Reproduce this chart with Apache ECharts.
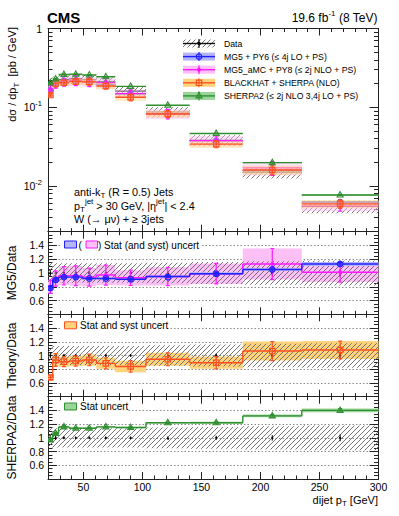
<!DOCTYPE html>
<html lang="en">
<head>
<meta charset="UTF-8">
<title>dijet pT - W + 3 jets</title>
<script src="https://cdn.jsdelivr.net/npm/echarts@6/dist/echarts.min.js"></script>
<style>
    html, body { margin: 0; padding: 0; background: #fff; }
    #chart { width: 399px; height: 516px; }
</style>
</head>
<body>
<div id="chart"></div>
<script>
// bins of dijet pT [GeV]
var binLow  = [20, 24, 29, 38, 49, 61, 77, 103, 140, 185, 235];
var binHigh = [24, 29, 38, 49, 61, 77, 103, 140, 185, 235, 300];
var binMid  = [22, 26.5, 33.5, 43.5, 55, 69, 90, 121.5, 162.5, 210, 267.5];

// measured cross section [pb/GeV] and relative uncertainties
var dataXsec    = [0.21, 0.215, 0.225, 0.23, 0.225, 0.21, 0.16, 0.087, 0.038, 0.0150, 0.0055];
var dataStatUnc = [0.04, 0.03, 0.02, 0.02, 0.02, 0.02, 0.02, 0.02, 0.03, 0.04, 0.05];
var dataTotUnc  = [0.14, 0.14, 0.14, 0.14, 0.14, 0.14, 0.14, 0.15, 0.16, 0.17, 0.18];

// predictions [pb/GeV]
var mg5Xsec = [0.164, 0.194, 0.212, 0.216, 0.207, 0.193, 0.146, 0.0827, 0.0376, 0.0158, 0.00622];
var amcXsec = [0.168, 0.198, 0.216, 0.221, 0.212, 0.204, 0.149, 0.0827, 0.0376, 0.0170, 0.00556];
var bhXsec  = [0.143, 0.201, 0.205, 0.212, 0.210, 0.186, 0.134, 0.0822, 0.0340, 0.0160, 0.00594];
var sh2Xsec = [0.204, 0.229, 0.261, 0.262, 0.257, 0.244, 0.184, 0.106, 0.0464, 0.0198, 0.0077];

// prediction / data
var mg5Ratio = [0.78, 0.90, 0.94, 0.94, 0.92, 0.92, 0.91, 0.95, 0.99, 1.05, 1.13];
var amcRatio = [0.80, 0.92, 0.96, 0.96, 0.94, 0.97, 0.93, 0.95, 0.99, 1.13, 1.01];
var bhRatio  = [0.68, 0.935, 0.91, 0.92, 0.935, 0.886, 0.84, 0.945, 0.895, 1.065, 1.08];
var sh2Ratio = [0.97, 1.065, 1.16, 1.14, 1.14, 1.16, 1.15, 1.22, 1.22, 1.32, 1.40];

// relative uncertainties of predictions
var mg5Unc = [0.03, 0.02, 0.015, 0.015, 0.015, 0.015, 0.015, 0.015, 0.02, 0.02, 0.025];
var amcUnc = [0.12, 0.12, 0.14, 0.15, 0.14, 0.15, 0.12, 0.14, 0.15, 0.20, 0.14];
var bhUnc  = [0.05, 0.10, 0.08, 0.08, 0.09, 0.09, 0.10, 0.10, 0.10, 0.13, 0.12];
var sh2Unc = [0.02, 0.015, 0.015, 0.01, 0.01, 0.01, 0.01, 0.01, 0.012, 0.015, 0.02];

// tick labels
var xTickLabels = [50, 100, 150, 200, 250, 300];
var ratioTickLabels = [0.6, 0.8, 1, 1.2, 1.4];
var logTickLabels = [-2, -1, 0];

var FONT = '"Liberation Sans", Arial, Helvetica, sans-serif';
var C = {
    blue: '#2020ff', blueBand: '#b4b6f6',
    mag: '#ff1aff', magBand: '#fcc0f6',
    orange: '#ff5020', orangeBand: '#ffd37c',
    green: '#2f8f2f', greenBand: '#9ad49a',
    frame: '#222'
};

// hatch like ROOT 3354
function hatch() {
    var c = document.createElement('canvas');
    c.width = 5; c.height = 5;
    var ctx = c.getContext('2d');
    ctx.strokeStyle = '#666';
    ctx.lineWidth = 0.9;
    ctx.beginPath();
    ctx.moveTo(0, 5); ctx.lineTo(5, 0);
    ctx.moveTo(-1, 1); ctx.lineTo(1, -1);
    ctx.moveTo(4, 6); ctx.lineTo(6, 4);
    ctx.stroke();
    return { image: c, repeat: 'repeat' };
}
var HATCH = hatch();

var ident = function (v) { return v; };
function rows(vals, errRel, bandRel, f) {
    return vals.map(function (v, i) {
        var prev = i > 0 ? vals[i - 1] : v;
        return [binLow[i], binHigh[i], binMid[i], f(v),
            f(v * (1 - errRel[i])), f(v * (1 + errRel[i])),
            f(v * (1 - bandRel[i])), f(v * (1 + bandRel[i])), f(prev)];
    });
}

function marker(kind, p, color) {
    var x = p[0], y = p[1];
    if (kind === 'circle') return { type: 'circle', shape: { cx: x, cy: y, r: 2.8 }, style: { fill: 'none', stroke: color, lineWidth: 1.2 } };
    if (kind === 'square') return { type: 'rect', shape: { x: x - 2.7, y: y - 2.7, width: 5.4, height: 5.4 }, style: { fill: 'none', stroke: color, lineWidth: 1.2 } };
    if (kind === 'triangle') return { type: 'polygon', shape: { points: [[x, y - 3.4], [x - 3, y + 2], [x + 3, y + 2]] }, style: { fill: 'none', stroke: color, lineWidth: 1.1 } };
    if (kind === 'diamond') return { type: 'polygon', shape: { points: [[x, y - 3], [x - 2.5, y], [x, y + 3], [x + 2.5, y]] }, style: { fill: color } };
    if (kind === 'tiny') return { type: 'circle', shape: { cx: x, cy: y, r: 1.1 }, style: { fill: color } };
    return { type: 'circle', shape: { cx: x, cy: y, r: 1.6 }, style: { fill: color } };
}

function hist(g, data, st) {
    return {
        type: 'custom', xAxisIndex: g * 4, yAxisIndex: g * 4,
        silent: true, animation: false, clip: true,
        encode: { x: [0, 1, 2], y: [3, 4, 5, 6, 7] },
        data: data,
        renderItem: function (params, api) {
            var lo = api.value(0), hi = api.value(1), mid = api.value(2), y = api.value(3);
            var kids = [];
            if (st.band) {
                var b1 = api.coord([lo, api.value(7)]), b2 = api.coord([hi, api.value(6)]);
                kids.push({ type: 'rect', shape: { x: b1[0], y: b1[1], width: b2[0] - b1[0], height: b2[1] - b1[1] },
                    style: { fill: st.band, opacity: st.bandOpacity || 1 } });
            }
            if (st.line) {
                var a = api.coord([lo, y]), b = api.coord([hi, y]);
                kids.push({ type: 'line', shape: { x1: a[0], y1: a[1], x2: b[0], y2: b[1] }, style: { stroke: st.line, lineWidth: st.lw || 1.4 } });
                if (st.step && params.dataIndex > 0) {
                    var p = api.coord([lo, api.value(8)]);
                    kids.push({ type: 'line', shape: { x1: p[0], y1: p[1], x2: a[0], y2: a[1] }, style: { stroke: st.line, lineWidth: st.lw || 1.4 } });
                }
            }
            if (st.err) {
                var e1 = api.coord([mid, api.value(4)]), e2 = api.coord([mid, api.value(5)]);
                var es = { stroke: st.err, lineWidth: st.ew || 1.2 };
                kids.push({ type: 'line', shape: { x1: e1[0], y1: e1[1], x2: e2[0], y2: e2[1] }, style: es });
                if (!st.noCaps) {
                    kids.push({ type: 'line', shape: { x1: e1[0] - 2, y1: e1[1], x2: e1[0] + 2, y2: e1[1] }, style: es });
                    kids.push({ type: 'line', shape: { x1: e2[0] - 2, y1: e2[1], x2: e2[0] + 2, y2: e2[1] }, style: es });
                }
            }
            if (st.marker) kids.push(marker(st.marker, api.coord([mid, y]), st.mcolor));
            return { type: 'group', children: kids };
        }
    };
}

// axes
var grids = [
    { left: 48, width: 330.5, top: 28.5, height: 203.2, outerBoundsMode: 'none' },
    { left: 48, width: 330.5, top: 231.7, height: 82.6, outerBoundsMode: 'none' },
    { left: 48, width: 330.5, top: 314.3, height: 82.4, outerBoundsMode: 'none' },
    { left: 48, width: 330.5, top: 396.7, height: 82.3, outerBoundsMode: 'none' }
];
var xMinor = [];
for (var t = 30; t < 300; t += 10) if (t % 50) xMinor.push(t);
var ratioMinor = [];
for (var r = 0.45; r < 1.6; r += 0.05) ratioMinor.push(+r.toFixed(2));
var logMinor = [];
[-3, -2, -1].forEach(function (d) {
    for (var k = 2; k <= 9; k++) { var lv = Math.log10(k) + d; if (lv > -2.58) logMinor.push(lv); }
});

var xAxes = [], yAxes = [];
grids.forEach(function (gr, g) {
    ['bottom', 'top'].forEach(function (pos) {
        xAxes.push({
            type: 'value', gridIndex: g, position: pos, min: 20, max: 300,
            axisLine: { show: true, onZero: false, lineStyle: { color: C.frame, width: 1 } },
            axisTick: { show: true, inside: true, length: 7, customValues: xTickLabels, lineStyle: { color: C.frame } },
            axisLabel: { show: g === 3 && pos === 'bottom', customValues: xTickLabels, margin: 2, fontSize: 10.5, fontFamily: FONT, color: '#000' },
            splitLine: { show: false }
        });
        xAxes.push({
            type: 'value', gridIndex: g, position: pos, min: 20, max: 300,
            axisLine: { show: false, onZero: false },
            axisTick: { show: true, inside: true, length: 3.5, customValues: xMinor, lineStyle: { color: C.frame } },
            axisLabel: { show: false }, splitLine: { show: false }
        });
    });
    var isLog = g === 0;
    ['left', 'right'].forEach(function (pos) {
        yAxes.push({
            type: 'value', gridIndex: g, position: pos,
            min: isLog ? -2.58 : 0.4, max: isLog ? 0 : 1.6,
            axisLine: { show: true, onZero: false, lineStyle: { color: C.frame, width: 1 } },
            axisTick: { show: true, inside: true, length: 9, customValues: isLog ? logTickLabels : ratioTickLabels, lineStyle: { color: C.frame } },
            axisLabel: {
                show: pos === 'left', customValues: isLog ? logTickLabels : ratioTickLabels,
                margin: isLog ? 6 : 4, fontSize: 10.5, fontFamily: FONT, color: '#000',
                formatter: isLog ? function (v) { return v === 0 ? '1' : '10{sup|' + v + '}'; } : null,
                rich: { sup: { fontSize: 7.5, fontFamily: FONT, verticalAlign: 'top', padding: [0, 0, 7, 0] } }
            },
            splitLine: { show: !isLog && pos === 'left', lineStyle: { color: '#8a8a8a', type: [1.5, 2], width: 1 } }
        });
        yAxes.push({
            type: 'value', gridIndex: g, position: pos,
            min: isLog ? -2.58 : 0.4, max: isLog ? 0 : 1.6,
            axisLine: { show: false, onZero: false },
            axisTick: { show: true, inside: true, length: 4.5, customValues: isLog ? logMinor : ratioMinor, lineStyle: { color: C.frame } },
            axisLabel: { show: false }, splitLine: { show: false }
        });
    });
});

var ones = dataXsec.map(function () { return 1; });
var zeros = dataXsec.map(function () { return 0; });
var L = Math.log10;
var dataDots = { err: '#000', ew: 1, noCaps: true, marker: 'tiny', mcolor: '#000' };

var series = [
    // top panel
    hist(0, rows(dataXsec, dataStatUnc, dataTotUnc, L), { band: HATCH }),
    hist(0, rows(dataXsec, dataStatUnc, dataTotUnc, L), { line: '#111', lw: 1.2, err: '#111', marker: 'dot', mcolor: '#000' }),
    hist(0, rows(mg5Xsec, mg5Unc, mg5Unc, L), { band: C.blueBand, line: C.blue, err: C.blue, marker: 'circle', mcolor: C.blue }),
    hist(0, rows(amcXsec, amcUnc, amcUnc, L), { band: C.magBand, bandOpacity: 0.5, line: C.mag, err: C.mag, marker: 'diamond', mcolor: C.mag }),
    hist(0, rows(bhXsec, bhUnc, bhUnc, L), { band: C.orangeBand, bandOpacity: 0.5, line: C.orange, err: C.orange, marker: 'square', mcolor: C.orange }),
    hist(0, rows(sh2Xsec, sh2Unc, sh2Unc, L), { band: C.greenBand, line: C.green, err: C.green, marker: 'triangle', mcolor: C.green }),
    // MG5 / data
    hist(1, rows(amcRatio, amcUnc, amcUnc, ident), { band: C.magBand }),
    hist(1, rows(ones, zeros, dataTotUnc, ident), { band: HATCH }),
    hist(1, rows(mg5Ratio, mg5Unc, mg5Unc, ident), { band: C.blueBand }),
    hist(1, rows(ones, dataStatUnc, zeros, ident), dataDots),
    hist(1, rows(amcRatio, amcUnc, amcUnc, ident), { line: C.mag, step: true, err: C.mag, marker: 'diamond', mcolor: C.mag }),
    hist(1, rows(mg5Ratio, mg5Unc, mg5Unc, ident), { line: C.blue, step: true, err: C.blue, marker: 'circle', mcolor: C.blue }),
    // theory / data
    hist(2, rows(bhRatio, bhUnc, bhUnc, ident), { band: C.orangeBand }),
    hist(2, rows(ones, zeros, dataTotUnc, ident), { band: HATCH }),
    hist(2, rows(ones, dataStatUnc, zeros, ident), dataDots),
    hist(2, rows(bhRatio, bhUnc, bhUnc, ident), { line: C.orange, step: true, err: C.orange, marker: 'square', mcolor: C.orange }),
    // SHERPA2 / data
    hist(3, rows(ones, zeros, dataTotUnc, ident), { band: HATCH }),
    hist(3, rows(ones, dataStatUnc, zeros, ident), dataDots),
    hist(3, rows(sh2Ratio, sh2Unc, sh2Unc, ident), { band: C.greenBand, line: C.green, step: true, err: C.green, marker: 'triangle', mcolor: C.green })
];

// text helpers
var richBase = {
    sub: { fontSize: 8, fontFamily: FONT, verticalAlign: 'bottom' },
    sup: { fontSize: 8, fontFamily: FONT, verticalAlign: 'top' }
};
function txt(x, y, text, size, opt) {
    opt = opt || {};
    return {
        type: 'text', x: x, y: y, rotation: opt.rot || 0, z: 100, silent: true,
        style: {
            text: text, fontSize: size, fontFamily: FONT, fontWeight: opt.bold ? 'bold' : 'normal',
            fill: '#000', align: opt.align || 'left', verticalAlign: 'middle',
            lineHeight: size + 5, rich: richBase
        }
    };
}
function box(x, y, w, h, fill, stroke) {
    return { type: 'rect', z: 100, silent: true, shape: { x: x, y: y, width: w, height: h }, style: { fill: fill, stroke: stroke || null, lineWidth: 1 } };
}
function seg(x1, y1, x2, y2, color, w) {
    return { type: 'line', z: 101, silent: true, shape: { x1: x1, y1: y1, x2: x2, y2: y2 }, style: { stroke: color, lineWidth: w || 1.4 } };
}

var graphics = [
    txt(47, 17.5, 'CMS', 15, { bold: true }),
    txt(377.5, 17.5, '19.6 fb{sup|-1} (8 TeV)', 12, { align: 'right' }),
    txt(12, 27, 'dσ / dp{sub|T}  [pb / GeV]', 11, { align: 'right', rot: Math.PI / 2 }),
    txt(11.5, 273, 'MG5/Data', 12, { align: 'center', rot: Math.PI / 2 }),
    txt(11.5, 355.5, 'Theory/Data', 12, { align: 'center', rot: Math.PI / 2 }),
    txt(11.5, 437.5, 'SHERPA2/Data', 12, { align: 'center', rot: Math.PI / 2 }),
    txt(378, 499.5, 'dijet p{sub|T} [GeV]', 11, { align: 'right' }),
    txt(74, 192, 'anti-k{sub|T} (R = 0.5) Jets', 10.8),
    txt(74, 205.5, 'p{sub|T}{sup|jet} > 30 GeV, |η{sup|jet}| < 2.4', 10.8),
    txt(74, 218.5, 'W (→ μν) + ≥ 3jets', 10.8)
];

// main legend
var legRows = [
    { label: 'Data', band: HATCH, line: '#111', m: 'dot', c: '#000' },
    { label: 'MG5 + PY6 (≤ 4j LO + PS)', band: C.blueBand, line: C.blue, m: 'circle', c: C.blue },
    { label: 'MG5_aMC + PY8 (≤ 2j NLO + PS)', band: C.magBand, line: C.mag, m: 'diamond', c: C.mag },
    { label: 'BLACKHAT + SHERPA (NLO)', band: C.orangeBand, line: C.orange, m: 'square', c: C.orange },
    { label: 'SHERPA2 (≤ 2j NLO 3,4j LO + PS)', band: C.greenBand, line: C.green, m: 'triangle', c: C.green }
];
legRows.forEach(function (it, i) {
    var y = 43.5 + i * 13.1;
    graphics.push(box(183, y - 4, 32, 8, it.band));
    graphics.push(seg(183, y, 215, y, it.line));
    graphics.push(seg(199, y - 4.5, 199, y + 4.5, it.c, 1.1));
    var mk = marker(it.m, [199, y], it.c);
    mk.z = 102; mk.silent = true;
    graphics.push(mk);
    graphics.push(txt(224, y, it.label, 8.7));
});

// ratio legends
graphics.push(box(61, 239.5, 141, 11, '#fff'));
graphics.push(box(64.5, 241, 12, 7, C.blueBand, C.blue));
graphics.push(txt(78.5, 245, '(', 10));
graphics.push(box(86, 241, 11.5, 7, C.magBand, C.mag));
graphics.push(txt(98, 245, ') Stat (and syst) uncert', 10));

graphics.push(box(61, 320, 106, 11, '#fff'));
graphics.push(box(64.5, 321.8, 12, 7, C.orangeBand, C.orange));
graphics.push(txt(80, 325.5, 'Stat and syst uncert', 10));

graphics.push(box(61, 401, 66, 11, '#fff'));
graphics.push(box(64.5, 403, 12, 7, C.greenBand, C.green));
graphics.push(txt(80, 406.5, 'Stat uncert', 10));

var chart = echarts.init(document.getElementById('chart'), null, { renderer: 'svg' });
chart.setOption({
    animation: false,
    backgroundColor: '#fff',
    textStyle: { fontFamily: FONT },
    grid: grids,
    xAxis: xAxes,
    yAxis: yAxes,
    series: series,
    graphic: { elements: graphics }
});
</script>
</body>
</html>
